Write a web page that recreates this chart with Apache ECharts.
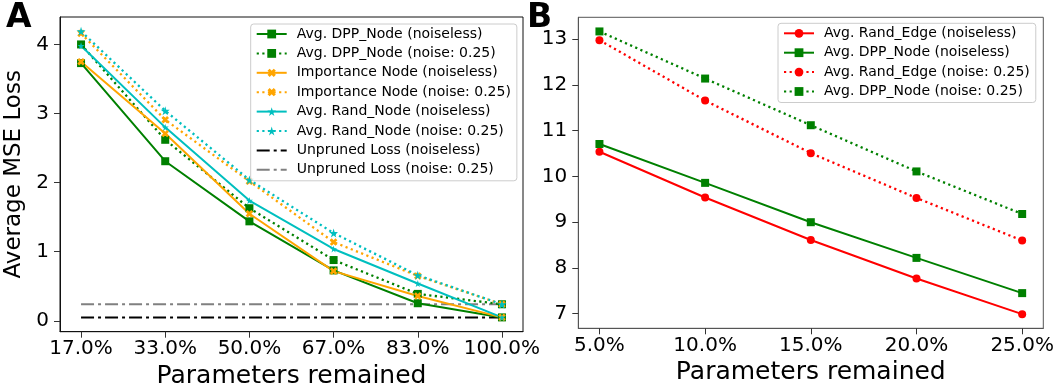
<!DOCTYPE html>
<html>
<head>
<meta charset="utf-8">
<script src="https://cdn.jsdelivr.net/npm/echarts@6/dist/echarts.min.js"></script>
<style>
  html, body { margin: 0; padding: 0; background: #fff; }
  #chart { width: 1058px; height: 385px; }
</style>
</head>
<body>
<div id="chart"></div>
<script>
// panel A: node pruning
const labelsA = ['17.0%', '33.0%', '50.0%', '67.0%', '83.0%', '100.0%'];
const dppNoiseless = [3.73, 2.31, 1.44, 0.73, 0.255, 0.05];
const dppNoise = [4.00, 2.62, 1.63, 0.88, 0.39, 0.24];
const impNoiseless = [3.75, 2.71, 1.55, 0.72, 0.36, 0.05];
const impNoise = [4.16, 2.91, 2.02, 1.14, 0.65, 0.24];
const randNoiseless = [3.98, 2.80, 1.74, 1.04, 0.54, 0.05];
const randNoise = [4.19, 3.04, 2.04, 1.27, 0.66, 0.24];
const unprunedNoiseless = [0.05, 0.05, 0.05, 0.05, 0.05, 0.05];
const unprunedNoise = [0.24, 0.24, 0.24, 0.24, 0.24, 0.24];
const ticksA = [0, 1, 2, 3, 4];

// panel B: edge pruning
const labelsB = ['5.0%', '10.0%', '15.0%', '20.0%', '25.0%'];
const edgeNoiselessB = [10.54, 9.54, 8.61, 7.77, 6.99];
const dppNoiselessB = [10.71, 9.86, 9.00, 8.22, 7.45];
const edgeNoiseB = [12.98, 11.66, 10.51, 9.53, 8.60];
const dppNoiseB = [13.17, 12.14, 11.12, 10.11, 9.18];
const ticksB = [7, 8, 9, 10, 11, 12, 13];

const GREEN = '#008000', ORANGE = '#FFA500', CYAN = '#00BFBF', RED = '#FF0000';
const STAR = 'path://M50,0 L61,35 L98,35 L68,57 L79,91 L50,70 L21,91 L32,57 L2,35 L39,35 Z';
const PLUS = 'path://M33,0 H67 V33 H100 V67 H67 V100 H33 V67 H0 V33 H33 Z';
const FONT = 'DejaVu Sans';
const DOTS = [2.2, 3.4];
const DASHDOT = [13, 4, 3, 4];

const pts = (arr) => arr.map((v, i) => [i, v]);

function line(name, values, color, symbol, dotted, axis, opts) {
  return Object.assign({
    name,
    type: 'line',
    xAxisIndex: axis,
    yAxisIndex: axis,
    data: pts(values),
    symbol,
    symbolSize: 8,
    showSymbol: symbol !== 'none',
    itemStyle: { color },
    lineStyle: { color, width: dotted ? 2.3 : 2, type: dotted ? DOTS : 'solid', cap: 'butt' },
    emphasis: { disabled: true },
    animation: false,
  }, opts || {});
}

const seriesA = [
  line('Unpruned Loss (noiseless)', unprunedNoiseless, '#000', 'none', false, 0,
    { lineStyle: { color: '#000', width: 2, type: DASHDOT } }),
  line('Unpruned Loss (noise: 0.25)', unprunedNoise, '#808080', 'none', false, 0,
    { lineStyle: { color: '#808080', width: 2, type: DASHDOT } }),
  line('Avg. DPP_Node (noiseless)', dppNoiseless, GREEN, 'rect', false, 0),
  line('Avg. DPP_Node (noise: 0.25)', dppNoise, GREEN, 'rect', true, 0),
  line('Importance Node (noiseless)', impNoiseless, ORANGE, PLUS, false, 0, { symbolRotate: 45 }),
  line('Importance Node (noise: 0.25)', impNoise, ORANGE, PLUS, true, 0, { symbolRotate: 45 }),
  line('Avg. Rand_Node (noiseless)', randNoiseless, CYAN, STAR, false, 0, { symbolSize: 7 }),
  line('Avg. Rand_Node (noise: 0.25)', randNoise, CYAN, STAR, true, 0, { symbolSize: 9 }),
];

const seriesB = [
  line('Avg. Rand_Edge (noiseless)', edgeNoiselessB, RED, 'circle', false, 1),
  line('Avg. DPP_Node (noiseless) ', dppNoiselessB, GREEN, 'rect', false, 1),
  line('Avg. Rand_Edge (noise: 0.25)', edgeNoiseB, RED, 'circle', true, 1),
  line('Avg. DPP_Node (noise: 0.25) ', dppNoiseB, GREEN, 'rect', true, 1),
];

// unpruned entries show only the dash-dot line, no marker
const noMarker = { itemStyle: { opacity: 0 } };
const legendA = [
  'Avg. DPP_Node (noiseless)', 'Avg. DPP_Node (noise: 0.25)',
  'Importance Node (noiseless)', 'Importance Node (noise: 0.25)',
  'Avg. Rand_Node (noiseless)', 'Avg. Rand_Node (noise: 0.25)',
  Object.assign({ name: 'Unpruned Loss (noiseless)' }, noMarker),
  Object.assign({ name: 'Unpruned Loss (noise: 0.25)' }, noMarker),
];
const legendB = [
  'Avg. Rand_Edge (noiseless)', 'Avg. DPP_Node (noiseless) ',
  'Avg. Rand_Edge (noise: 0.25)', 'Avg. DPP_Node (noise: 0.25) ',
];

function legend(data, left, top) {
  return {
    data,
    orient: 'vertical',
    left, top,
    itemWidth: 30,
    itemHeight: 11,
    itemGap: 5.4,
    padding: [3, 6, 4, 5],
    borderColor: '#cccccc',
    borderWidth: 1,
    borderRadius: 3,
    backgroundColor: 'rgba(255,255,255,0.8)',
    selectedMode: false,
    textStyle: {
      fontFamily: FONT, fontSize: 14, color: '#000',
      padding: [0, 0, 0, 5],
    },
    formatter: (n) => n.trim(),
  };
}

function xAxis(grid, n, labels, name) {
  const vals = labels.map((_, i) => i);
  const pad = (n - 1) * 0.05;
  return {
    type: 'value',
    gridIndex: grid,
    min: -pad,
    max: n - 1 + pad,
    name,
    nameLocation: 'middle',
    nameGap: 32,
    nameTextStyle: { fontFamily: FONT, fontSize: 25, color: '#000' },
    axisLine: { show: true, onZero: false, lineStyle: { color: grid ? '#555' : '#111', width: 1 } },
    axisTick: { show: true, customValues: vals, length: 6, lineStyle: { color: '#333' } },
    axisLabel: {
      customValues: vals,
      formatter: (v) => labels[Math.round(v)],
      fontFamily: FONT, fontSize: 20, color: '#000', margin: 7,
    },
    splitLine: { show: false },
  };
}

function yAxis(grid, min, max, ticks, name) {
  return {
    type: 'value',
    gridIndex: grid,
    min, max,
    name,
    nameLocation: 'middle',
    nameGap: 34,
    nameTextStyle: { fontFamily: FONT, fontSize: 23, color: '#000' },
    axisLine: { show: true, onZero: false, lineStyle: { color: grid ? '#555' : '#111', width: 1 } },
    axisTick: { show: true, customValues: ticks, length: 6, lineStyle: { color: '#333' } },
    axisLabel: {
      customValues: ticks,
      fontFamily: FONT, fontSize: 20, color: '#000', margin: 11,
    },
    splitLine: { show: false },
  };
}

const chart = echarts.init(document.getElementById('chart'), null, { renderer: 'canvas' });
chart.setOption({
  backgroundColor: '#fff',
  animation: false,
  grid: [
    { left: 60, top: 17, width: 463, height: 314.7, outerBoundsMode: 'none', containLabel: false,
      show: true, borderColor: '#111', borderWidth: 1, backgroundColor: 'transparent' },
    { left: 578.3, top: 17.3, width: 465, height: 311, outerBoundsMode: 'none', containLabel: false,
      show: true, borderColor: '#555', borderWidth: 1, backgroundColor: 'transparent' },
  ],
  xAxis: [
    xAxis(0, labelsA.length, labelsA, 'Parameters remained'),
    xAxis(1, labelsB.length, labelsB, 'Parameters remained'),
  ],
  yAxis: [
    yAxis(0, -0.157, 4.397, ticksA, 'Average MSE Loss'),
    yAxis(1, 6.681, 13.479, ticksB, ''),
  ],
  legend: [legend(legendA, 250.7, 24), legend(legendB, 778, 23.3)],
  graphic: [
    { type: 'text', left: 6, top: 2, style: { text: 'A', font: 'bold 33px "DejaVu Sans"', fill: '#000' } },
    { type: 'text', left: 527, top: 2, style: { text: 'B', font: 'bold 33px "DejaVu Sans"', fill: '#000' } },
  ],
  series: [...seriesA, ...seriesB],
});
</script>
</body>
</html>
